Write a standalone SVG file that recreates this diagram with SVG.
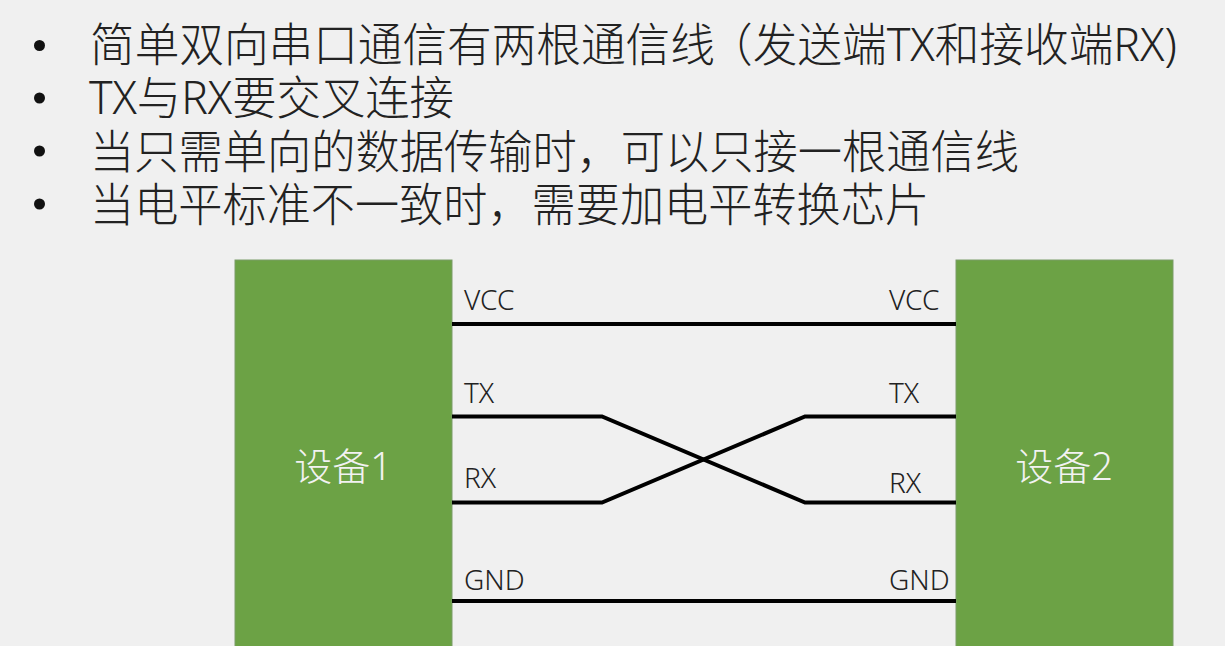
<svg xmlns="http://www.w3.org/2000/svg" width="1225" height="646" viewBox="0 0 1225 646">
<style>
text{font-family:"Noto Sans","Noto Sans CJK SC",sans-serif;fill:#222}
.h{font-size:46px;font-weight:300}
.l{font-size:28px;font-weight:300}
.n{font-size:38px;fill:#f2f2f2;text-anchor:middle;font-weight:300}
.b{fill:#6ca245;stroke:#7b9c68;stroke-width:1}
.w{fill:none;stroke:#000;stroke-width:4}
.d{fill:#111}
</style>
<rect width="1225" height="646" fill="#f0f0f0"/>
<g id="bullets">
<circle class="d" cx="39.500" cy="45.500" r="5.500"/><circle class="d" cx="39.500" cy="98" r="5.500"/><circle class="d" cx="39.500" cy="151" r="5.500"/><circle class="d" cx="39.500" cy="204" r="5.500"/>
<text class="h" x="90" y="61" textLength="1087" lengthAdjust="spacingAndGlyphs">简单双向串口通信有两根通信线<tspan dx="-7">（发送端TX和接收端RX)</tspan></text>
<text class="h" x="89" y="114" textLength="365" lengthAdjust="spacingAndGlyphs">TX与RX要交叉连接</text>
<text class="h" x="90" y="168" textLength="929" lengthAdjust="spacingAndGlyphs">当只需单向的数据传输时，可以只接一根通信线</text>
<text class="h" x="90" y="221" textLength="839" lengthAdjust="spacingAndGlyphs">当电平标准不一致时，需要加电平转换芯片</text>
</g>
<g id="device1"><rect class="b" x="235" y="260" width="217" height="400"/><text class="n" x="343" y="480">设备1</text></g>
<g id="device2"><rect class="b" x="956" y="260" width="217" height="400"/><text class="n" x="1064" y="480">设备2</text></g>
<g id="connectors">
<path class="w" d="M452 324H956"/>
<path class="w" d="M452 416.500H602L805 502.500H956"/>
<path class="w" d="M452 502.500H602L805 416.500H956"/>
<path class="w" d="M452 601H956"/>
</g>
<g id="labels">
<text class="l" x="464" y="310">VCC</text><text class="l" x="889" y="310">VCC</text>
<text class="l" x="464" y="403">TX</text><text class="l" x="889" y="403">TX</text>
<text class="l" x="464" y="488">RX</text><text class="l" x="889" y="493">RX</text>
<text class="l" x="464" y="590">GND</text><text class="l" x="889" y="590">GND</text>
</g>
</svg>
